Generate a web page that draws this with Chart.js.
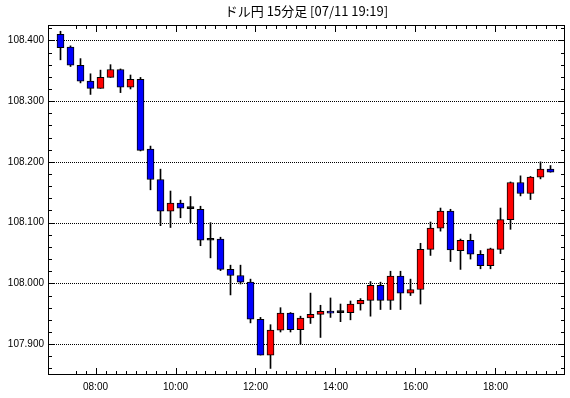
<!DOCTYPE html>
<html>
<head>
<meta charset="utf-8">
<script src="https://cdn.jsdelivr.net/npm/chart.js@4.4.1/dist/chart.umd.min.js"></script>
<style>
  html, body { margin: 0; padding: 0; background: #fff; }
</style>
</head>
<body>
<canvas id="c" width="570" height="398"></canvas>
<script>
// 15分足 ドル円
const times = [
  '07:00', '07:15', '07:30', '07:45', '08:00', '08:15', '08:30', '08:45',
  '09:00', '09:15', '09:30', '09:45', '10:00', '10:15', '10:30', '10:45',
  '11:00', '11:15', '11:30', '11:45', '12:00', '12:15', '12:30', '12:45',
  '13:00', '13:15', '13:30', '13:45', '14:00', '14:15', '14:30', '14:45',
  '15:00', '15:15', '15:30', '15:45', '16:00', '16:15', '16:30', '16:45',
  '17:00', '17:15', '17:30', '17:45', '18:00', '18:15', '18:30', '18:45',
  '19:00', '19:15'
];
const opens = [
  108.410, 108.389, 108.359, 108.333, 108.321, 108.339, 108.352, 108.323,
  108.336, 108.221, 108.171, 108.119, 108.132, 108.123, 108.122, 108.071,
  108.073, 108.023, 108.013, 108.002, 107.941, 107.882, 107.923, 107.951,
  107.924, 107.943, 107.949, 107.954, 107.952, 107.952, 107.966, 107.972,
  107.997, 107.972, 108.012, 107.984, 107.990, 108.056, 108.091, 108.119,
  108.054, 108.071, 108.048, 108.029, 108.056, 108.105, 108.166, 108.148,
  108.175, 108.188
];
const highs = [
  108.415, 108.391, 108.370, 108.345, 108.351, 108.360, 108.353, 108.343,
  108.339, 108.226, 108.188, 108.152, 108.137, 108.143, 108.127, 108.100,
  108.076, 108.030, 108.030, 108.007, 107.944, 107.932, 107.960, 107.952,
  107.946, 107.984, 107.964, 107.976, 107.966, 107.971, 107.975, 108.003,
  108.002, 108.020, 108.020, 108.007, 108.066, 108.101, 108.124, 108.122,
  108.073, 108.081, 108.054, 108.058, 108.124, 108.167, 108.177, 108.176,
  108.200, 108.194
];
const lows = [
  108.368, 108.357, 108.330, 108.311, 108.321, 108.339, 108.314, 108.320,
  108.218, 108.154, 108.095, 108.092, 108.108, 108.100, 108.062, 108.042,
  108.021, 107.981, 107.999, 107.935, 107.882, 107.860, 107.920, 107.920,
  107.900, 107.934, 107.911, 107.944, 107.937, 107.940, 107.956, 107.946,
  107.957, 107.957, 107.957, 107.980, 107.966, 108.046, 108.086, 108.036,
  108.023, 108.040, 108.024, 108.024, 108.049, 108.089, 108.144, 108.138,
  108.172, 108.183
];
const closes = [
  108.388, 108.359, 108.333, 108.321, 108.339, 108.352, 108.323, 108.336,
  108.219, 108.171, 108.119, 108.132, 108.124, 108.123, 108.071, 108.071,
  108.023, 108.013, 108.002, 107.941, 107.882, 107.923, 107.951, 107.924,
  107.943, 107.949, 107.954, 107.951, 107.952, 107.966, 107.972, 107.997,
  107.972, 108.012, 107.984, 107.990, 108.056, 108.091, 108.119, 108.055,
  108.071, 108.048, 108.029, 108.057, 108.105, 108.166, 108.148, 108.175,
  108.188, 108.183
];
const yTicks = [107.9, 108.0, 108.1, 108.2, 108.3, 108.4];
const xLabels = ['08:00', '10:00', '12:00', '14:00', '16:00', '18:00'];

const bodyColors = opens.map((o, i) => closes[i] > o ? '#ff0000' : closes[i] < o ? '#0000ff' : '#000000');

// 枠・目盛り・点線
const framePlugin = {
  id: 'frame',
  beforeDatasetsDraw(chart) {
    const { ctx, chartArea: a, scales: { x, y } } = chart;
    ctx.save();
    ctx.strokeStyle = '#000';
    ctx.lineWidth = 1;

    ctx.setLineDash([1, 1]);
    yTicks.forEach(v => {
      const py = Math.round(y.getPixelForValue(v)) + 0.5;
      ctx.beginPath();
      ctx.moveTo(a.left, py);
      ctx.lineTo(a.right, py);
      ctx.stroke();
    });
    ctx.setLineDash([]);

    ctx.beginPath();
    for (let k = 5393; k <= 5421; k++) {
      const v = k * 0.02;
      const py = Math.round(y.getPixelForValue(v)) + 0.5;
      const len = (k % 5 === 0) ? 6 : 4;
      ctx.moveTo(a.left, py); ctx.lineTo(a.left + len, py);
      ctx.moveTo(a.right, py); ctx.lineTo(a.right - len, py);
    }
    for (let i = 2; i <= 50; i++) {
      const px = Math.round(x.getPixelForValue(i - 0.5)) + 0.5;
      const len = times[i] && times[i].endsWith(':00') && (parseInt(times[i]) % 2 === 0) ? 7 : 4;
      ctx.moveTo(px, a.top); ctx.lineTo(px, a.top + len);
      ctx.moveTo(px, a.bottom); ctx.lineTo(px, a.bottom - len);
    }
    ctx.stroke();

    ctx.strokeRect(a.left + 0.5, a.top + 0.5, a.width - 1, a.height - 1);
    ctx.restore();
  }
};

new Chart(document.getElementById('c'), {
  type: 'bar',
  data: {
    datasets: [
      {
        label: 'body',
        data: opens.map((o, i) => ({ x: i, y: [o, closes[i]] })),
        backgroundColor: bodyColors,
        borderColor: '#000',
        borderWidth: 1,
        borderSkipped: false,
        barThickness: 7,
        minBarLength: 2,
        grouped: false,
        order: 1
      },
      {
        label: 'wick',
        data: lows.map((l, i) => ({ x: i, y: [l, highs[i]] })),
        backgroundColor: '#000',
        borderWidth: 0,
        barThickness: 1,
        grouped: false,
        order: 2
      }
    ]
  },
  options: {
    responsive: false,
    animation: false,
    layout: { padding: { left: 0, right: 5, top: 0, bottom: 0 } },
    plugins: {
      legend: { display: false },
      tooltip: { enabled: false },
      title: {
        display: true,
        text: 'ドル円 15分足 [07/11 19:19]',
        color: '#000',
        fullSize: false,
        font: { family: '"Noto Sans CJK JP", sans-serif', size: 13, weight: 'normal' },
        padding: { top: 3, bottom: 6.4 }
      }
    },
    scales: {
      x: {
        type: 'linear',
        offset: false,
        min: -1.25,
        max: 50.45,
        grid: { display: false, drawTicks: false },
        border: { display: false },
        afterBuildTicks: s => { s.ticks = xLabels.map(t => ({ value: times.indexOf(t) - 0.5 })); },
        afterFit: s => { s.height = 23; },
        ticks: {
          autoSkip: false,
          maxRotation: 0,
          padding: 6,
          color: '#000',
          font: { family: '"Liberation Sans", sans-serif', size: 10 },
          callback: v => times[Math.round(v + 0.5)]
        }
      },
      y: {
        type: 'linear',
        min: 107.8492,
        max: 108.4253,
        grid: { display: false, drawTicks: false },
        border: { display: false },
        afterBuildTicks: s => { s.ticks = yTicks.map(v => ({ value: v })); },
        afterFit: s => { s.width = 48; },
        ticks: {
          padding: 4,
          color: '#000',
          font: { family: '"Liberation Sans", sans-serif', size: 10 },
          callback: v => v.toFixed(3)
        }
      }
    }
  },
  plugins: [framePlugin]
});
</script>
</body>
</html>
